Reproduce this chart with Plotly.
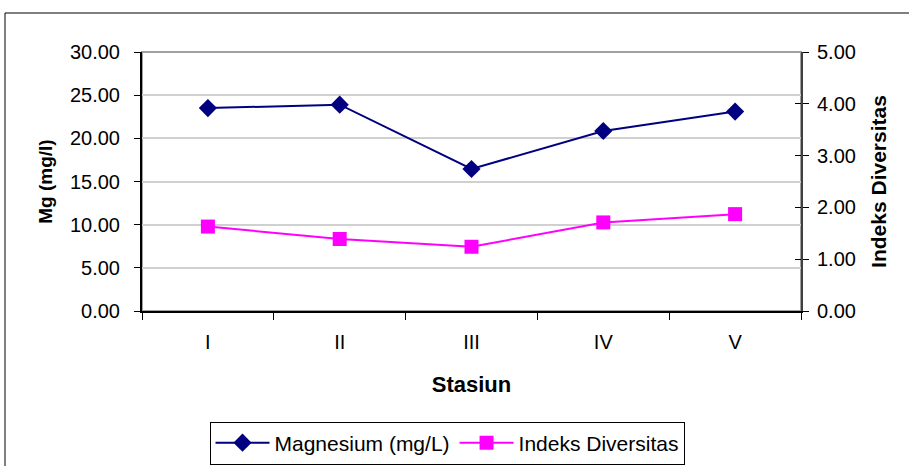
import plotly.graph_objects as go

stasiun = ["I", "II", "III", "IV", "V"]
magnesium = [23.5, 23.9, 16.45, 20.85, 23.1]
indeks = [1.63, 1.39, 1.24, 1.71, 1.87]

left_ticks = [0, 5, 10, 15, 20, 25, 30]
right_ticks = [0, 1, 2, 3, 4, 5]

FONT = "Liberation Sans, Arial, sans-serif"

fig = go.Figure()
fig.add_trace(go.Scatter(
    x=stasiun, y=magnesium, name="Magnesium (mg/L)",
    mode="lines+markers",
    line=dict(color="#000080", width=2),
    marker=dict(symbol="diamond", size=14, color="#000080"),
    yaxis="y",
))
fig.add_trace(go.Scatter(
    x=stasiun, y=indeks, name="Indeks Diversitas",
    mode="lines+markers",
    line=dict(color="#FF00FF", width=2),
    marker=dict(symbol="square", size=14, color="#FF00FF"),
    yaxis="y2",
))

L, R, T, B = 142, 108, 52, 155
W, H = 909, 466
pw, ph = W - L - R, H - T - B

# outer chart frame and plot-area frame
fig.add_shape(type="rect", xref="paper", yref="paper",
              x0=(5 - L) / pw, x1=(W + 10 - L) / pw,
              y0=-(H + 10 - T - ph) / ph, y1=(T + ph - 13) / ph,
              line=dict(color="#000000", width=1), layer="below")
fig.add_shape(type="rect", xref="paper", yref="paper",
              x0=0, x1=1, y0=0, y1=1,
              line=dict(color="#a0a0a0", width=2), layer="below")

fig.update_layout(
    width=W, height=H,
    margin=dict(l=L, r=R, t=T, b=B, autoexpand=False),
    paper_bgcolor="white", plot_bgcolor="white",
    font=dict(family=FONT, size=20, color="black"),
    showlegend=True,
    legend=dict(
        orientation="h", xref="container", yref="container",
        x=447 / W, xanchor="center", y=1.5 / H, yanchor="bottom",
        bordercolor="black", borderwidth=1, font=dict(size=21),
        itemwidth=54, tracegroupgap=0,
    ),
    xaxis=dict(
        type="category", range=[-0.5, 4.5],
        showgrid=False, showline=True, linecolor="black", linewidth=2,
        ticks="outside", tickson="boundaries", ticklen=7, tickcolor="black",
        ticklabelstandoff=12,
        title=dict(text="<b>Stasiun</b>", font=dict(size=22), standoff=25),
        zeroline=False,
    ),
    yaxis=dict(
        range=[0, 30], tickvals=left_ticks,
        ticktext=[f"{v:.2f}" for v in left_ticks],
        showgrid=True, gridcolor="#d0d0d0", gridwidth=2,
        showline=True, linecolor="black", linewidth=2,
        ticks="outside", ticklen=6, tickcolor="black",
        ticklabelstandoff=10,
        title=dict(text="<b>Mg (mg/l)</b>", font=dict(size=19), standoff=12),
        zeroline=False,
    ),
    yaxis2=dict(
        range=[0, 5], tickvals=right_ticks,
        ticktext=[f"{v:.2f}" for v in right_ticks],
        overlaying="y", side="right",
        showgrid=False, showline=True, linecolor="#404040", linewidth=2,
        ticks="outside", ticklen=6, tickcolor="black",
        ticklabelstandoff=4,
        title=dict(text="<b>Indeks Diversitas</b>", font=dict(size=21), standoff=16),
        zeroline=False,
    ),
    yaxis3=dict(
        range=[0, 5], tickvals=right_ticks, overlaying="y", side="right",
        showgrid=False, showline=False, showticklabels=False,
        ticks="inside", ticklen=6, tickcolor="black", zeroline=False,
    ),
)
# inner half of the crossing ticks on the right axis
fig.add_trace(go.Scatter(x=[None], y=[None], yaxis="y3", showlegend=False,
                         hoverinfo="skip"))

fig.write_html("out.html")
